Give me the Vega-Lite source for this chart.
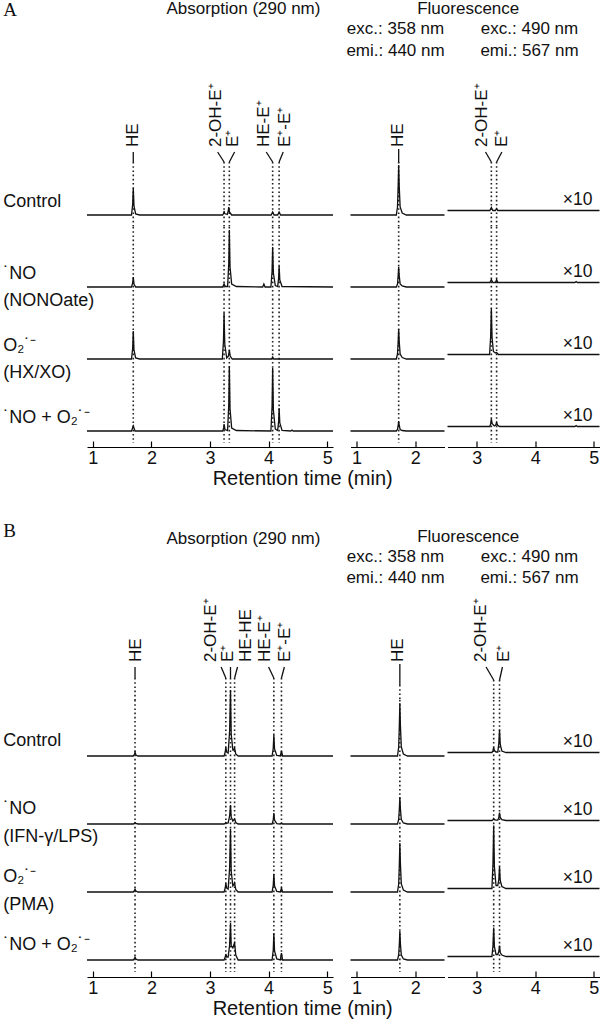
{
"$schema": "https://vega.github.io/schema/vega-lite/v6.json",
"background": "white",
"padding": {"left": 3, "top": 0, "right": 0, "bottom": 0},
"spacing": 33,
"datasets": {
"absA": [
{"s":"a","lab":"HE","tx":1.69,"bx":1.69,"px":1.69,"t":[null],"v":[null],"pk":[null]},
{"s":"a","lab":"2-OH-E⁺","tx":3.1,"bx":3.13,"px":3.24,"t":[null],"v":[null],"pk":[null]},
{"s":"a","lab":"E⁺","tx":3.4,"bx":3.42,"px":3.33,"t":[null],"v":[null],"pk":[null]},
{"s":"a","lab":"HE-E⁺","tx":3.93,"bx":3.96,"px":4.07,"t":[null],"v":[null],"pk":[null]},
{"s":"a","lab":"E⁺-E⁺","tx":4.28,"bx":4.25,"px":4.18,"t":[null],"v":[null],"pk":[null]},
{"s":"Control","name":"Control","pk":[1.69,3.24,3.33,4.07,4.18],
 "t":[0.9,1.66,1.68,1.69,1.702,1.73,1.8,3.215,3.235,3.24,3.25,3.295,3.31,3.32,3.332,3.37,4.045,4.07,4.095,4.155,4.18,4.205,5.1],
 "v":[0,0,11,27,9,1,0,0,2,4,1.5,0.5,3.5,8,3,0,0,3,0,0,3,0,0]},
{"s":"NO","name":["˙NO","(NONOate)"],"pk":[1.69,3.24,3.33,4.07,4.18],
 "t":[0.9,1.66,1.68,1.69,1.702,1.73,3.215,3.24,3.262,3.3,3.32,3.33,3.342,3.37,3.45,3.9,3.92,3.94,4.04,4.06,4.07,4.082,4.115,4.155,4.172,4.18,4.192,4.23,5.1],
 "v":[0,0,4,10,3,0,0,3,0.5,0.5,23,57,20,3,0.5,0,3,0,0,16,40,14,1.5,0.5,9,21,7,0.5,0]},
{"s":"O2","name":["O₂˙⁻","(HX/XO)"],"pk":[1.69,3.24,3.33,4.07,4.18],
 "t":[0.9,1.66,1.68,1.69,1.702,1.73,1.8,3.21,3.23,3.24,3.252,3.285,3.315,3.33,3.345,3.38,4.05,4.07,4.09,5.1],
 "v":[0,0,11,28,9,1,0,0,18,46,15,1,3,9,3,0,0,2,0,0]},
{"s":"NOO2","name":"˙NO + O₂˙⁻","pk":[1.69,3.24,3.33,4.07,4.18],
 "t":[0.9,1.66,1.69,1.72,3.215,3.235,3.24,3.255,3.3,3.32,3.33,3.342,3.37,3.45,4.04,4.06,4.07,4.082,4.115,4.155,4.172,4.18,4.192,4.23,4.38,4.4,4.42,5.1],
 "v":[0,0,5,0,0,3,7,1.5,0.5,26,65,22,3,0.5,0,25,63,21,2,0.5,10,23,8,0.5,0,1,0,0]}
],
"flA": [
{"s":"a","lab":"HE","tx":1.71,"bx":1.72,"px":1.72,"t":[null],"v":[null],"pk":[null]},
{"s":"Control","pk":[1.72],"t":[0.9,1.68,1.7,1.712,1.72,1.73,1.745,1.78,1.85,2.5],"v":[0,0,8,30,50,28,8,2,0,0]},
{"s":"NO","pk":[1.72],"t":[0.9,1.68,1.7,1.712,1.72,1.73,1.745,1.78,1.85,2.5],"v":[0,0,3,12,20,11,3,1,0,0]},
{"s":"O2","pk":[1.72],"t":[0.9,1.68,1.7,1.712,1.72,1.73,1.745,1.78,1.85,2.5],"v":[0,0,5,18,30,17,5,1.5,0,0]},
{"s":"NOO2","pk":[1.72],"t":[0.9,1.68,1.7,1.712,1.72,1.73,1.745,1.78,1.85,2.5],"v":[0,0,1.5,6,10,5.5,1.5,0.5,0,0]}
],
"frA": [
{"s":"a","lab":"2-OH-E⁺","tx":3.09,"bx":3.15,"px":3.25,"t":[null],"v":[null],"pk":[null]},
{"s":"a","lab":"E⁺","tx":3.44,"bx":3.43,"px":3.34,"t":[null],"v":[null],"pk":[null]},
{"s":"Control","pk":[3.25,3.34],"t":[2.5,3.225,3.25,3.275,3.32,3.34,3.36,5.1],"v":[0,0,3,0,0,2,0,0]},
{"s":"NO","pk":[3.25,3.34],"t":[2.5,3.225,3.25,3.275,3.32,3.34,3.36,4.68,4.7,4.72,5.1],"v":[0,0,3,0,0,3,0,0,1,0,0]},
{"s":"O2","pk":[3.25,3.34],"t":[2.5,3.22,3.238,3.25,3.262,3.285,3.32,3.34,3.37,5.1],"v":[0,0,18,46,17,3,1.5,2,0,0]},
{"s":"NOO2","pk":[3.25,3.34],"t":[2.5,3.225,3.24,3.25,3.262,3.3,3.325,3.34,3.355,3.39,4.68,4.7,4.72,5.1],"v":[0,0,3,8,3,0.5,1.5,4,1.5,0,0,1,0,0]}
],
"absB": [
{"s":"a","lab":"HE","tx":1.73,"bx":1.72,"px":1.72,"t":[null],"v":[null],"pk":[null]},
{"s":"a","lab":"2-OH-E⁺","tx":3.02,"bx":3.19,"px":3.27,"t":[null],"v":[null],"pk":[null]},
{"s":"a","lab":"E⁺","tx":3.31,"bx":3.35,"px":3.35,"t":[null],"v":[null],"pk":[null]},
{"s":"a","lab":"HE-HE","tx":3.62,"bx":3.47,"px":3.42,"t":[null],"v":[null],"pk":[null]},
{"s":"a","lab":"HE-E⁺","tx":3.94,"bx":4.0,"px":4.09,"t":[null],"v":[null],"pk":[null]},
{"s":"a","lab":"E⁺-E⁺","tx":4.28,"bx":4.27,"px":4.22,"t":[null],"v":[null],"pk":[null]},
{"s":"Control","name":"Control","pk":[1.72,3.27,3.35,3.42,4.09,4.22],
 "t":[0.9,1.69,1.712,1.72,1.735,1.77,3.24,3.26,3.27,3.285,3.31,3.335,3.35,3.362,3.39,3.405,3.42,3.44,3.48,4.06,4.08,4.09,4.102,4.14,4.2,4.22,4.24,5.1],
 "v":[0,0,2,4,1,0,0,4,9,4,3,25,66,22,6,6,8,2,0,0,8,21,7,0.5,0,5,0,0]},
{"s":"NO","name":["˙NO","(IFN-γ/LPS)"],"pk":[1.72,3.27,3.35,3.42,4.09,4.22],
 "t":[0.9,1.69,1.712,1.72,1.735,1.77,3.24,3.26,3.27,3.285,3.31,3.335,3.35,3.362,3.39,3.405,3.42,3.44,3.48,4.06,4.08,4.09,4.102,4.14,4.2,4.22,4.24,5.1],
 "v":[0,0,0.8,1.5,0.5,0,0,0.8,1.5,0.8,1,8,19,7,3,4,5,1.5,0,0,4,11,4,0.3,0,1,0,0]},
{"s":"O2","name":["O₂˙⁻","(PMA)"],"pk":[1.72,3.27,3.35,3.42,4.09,4.22],
 "t":[0.9,1.69,1.712,1.72,1.735,1.77,3.24,3.26,3.27,3.285,3.31,3.335,3.35,3.362,3.39,3.405,3.42,3.44,3.48,4.06,4.08,4.09,4.102,4.14,4.2,4.22,4.24,5.1],
 "v":[0,0,1.5,3,1,0,0,4,9,4,3,24,63,21,6,7,9,2.5,0,0,7,18,6,0.5,0,4,0,0]},
{"s":"NOO2","name":"˙NO + O₂˙⁻","pk":[1.72,3.27,3.35,3.42,4.09,4.22],
 "t":[0.9,1.69,1.712,1.72,1.735,1.77,3.24,3.26,3.27,3.285,3.31,3.335,3.35,3.362,3.39,3.405,3.42,3.44,3.48,4.06,4.08,4.09,4.102,4.14,4.2,4.22,4.24,5.1],
 "v":[0,0,1.5,3,1,0,0,3,6,3,3,15,37,14,12,15,17,5,0,0,10,27,9,1,0,7,0,0]}
],
"flB": [
{"s":"a","lab":"HE","tx":1.71,"bx":1.74,"px":1.74,"t":[null],"v":[null],"pk":[null]},
{"s":"Control","pk":[1.74],"t":[0.9,1.7,1.72,1.732,1.74,1.75,1.765,1.8,1.87,2.5],"v":[0,0,9,32,53,30,9,2,0,0]},
{"s":"NO","pk":[1.74],"t":[0.9,1.7,1.72,1.732,1.74,1.75,1.765,1.8,1.87,2.5],"v":[0,0,4.5,16,27,15,4.5,1,0,0]},
{"s":"O2","pk":[1.74],"t":[0.9,1.7,1.72,1.732,1.74,1.75,1.765,1.8,1.87,2.5],"v":[0,0,8,29,49,28,8,2,0,0]},
{"s":"NOO2","pk":[1.74],"t":[0.9,1.7,1.72,1.732,1.74,1.75,1.765,1.8,1.87,2.5],"v":[0,0,5,17,29,16,5,1,0,0]}
],
"frB": [
{"s":"a","lab":"2-OH-E⁺","tx":3.08,"bx":3.16,"px":3.29,"t":[null],"v":[null],"pk":[null]},
{"s":"a","lab":"E⁺","tx":3.47,"bx":3.44,"px":3.39,"t":[null],"v":[null],"pk":[null]},
{"s":"Control","pk":[3.29,3.39],"t":[2.5,3.26,3.278,3.29,3.302,3.33,3.36,3.378,3.39,3.402,3.43,3.5,5.1],"v":[0,0,2,5,2,0.5,0.5,9,23,8,1.5,0,0]},
{"s":"NO","pk":[3.29,3.39],"t":[2.5,3.26,3.278,3.29,3.302,3.33,3.36,3.378,3.39,3.402,3.43,3.5,5.1],"v":[0,0,0.8,2,0.8,0.3,0.3,3,8,3,0.8,0,0]},
{"s":"O2","pk":[3.29,3.39],"t":[2.5,3.26,3.278,3.29,3.302,3.33,3.36,3.378,3.39,3.402,3.43,3.5,5.1],"v":[0,0,25,63,22,3,3,9,22,8,2,0,0]},
{"s":"NOO2","pk":[3.29,3.39],"t":[2.5,3.26,3.278,3.29,3.302,3.33,3.36,3.378,3.39,3.402,3.43,3.5,5.1],"v":[0,0,11,29,10,2,2,5,11,4,1.5,0,0]}
]
},
"vconcat": [
{
 "title": {"text": "A", "anchor": "start", "font": "Liberation Serif", "fontSize": 19, "offset": -20},
 "vconcat": [{
  "title": {"text": "Retention time (min)", "orient": "bottom", "anchor": "middle", "fontSize": 20, "offset": 2},
  "spacing": 9.5,
  "hconcat": [
   {
    "data": {"name": "absA"},
    "transform": [{"flatten": ["t", "v", "pk"]}],
    "title": {"text": "Absorption (290 nm)", "anchor": "middle", "dx": 74, "offset": 65},
    "spacing": 0,
    "bounds": "flush",
    "facet": {"row": {"field": "s", "type": "nominal", "sort": ["a","Control","NO","O2","NOO2"], "header": null}},
    "spec": {"width": 246, "height": 72, "layer": [
     {"transform": [{"filter": "datum.pk != null && datum.s !== 'a' && datum.s !== 'Control'"}],
      "mark": {"type": "rule", "strokeDash": [1.6, 2.6], "strokeWidth": 1.6, "color": "#222"},
      "encoding": {"x": {"field": "pk", "type": "quantitative", "scale": {"domain": [0.9, 5.1], "nice": false, "zero": false}, "axis": {"values": [1,2,3,4,5], "title": null, "offset": 4, "tickSize": -6, "labelPadding": 8, "grid": false}},
       "y": {"datum": 60, "type": "quantitative", "scale": {"domain": [-12, 60], "nice": false, "zero": false}, "axis": null}, "y2": {"datum": -12}}},
     {"transform": [{"filter": "datum.pk != null && datum.s === 'Control'"}],
      "mark": {"type": "rule", "strokeDash": [1.6, 2.6], "strokeWidth": 1.6, "color": "#222"},
      "encoding": {"x": {"field": "pk", "type": "quantitative", "scale": {"domain": [0.9, 5.1], "nice": false, "zero": false}, "axis": {"values": [1,2,3,4,5], "title": null, "offset": 4, "tickSize": -6, "labelPadding": 8, "grid": false}},
       "y": {"datum": 53, "type": "quantitative", "scale": {"domain": [-12, 60], "nice": false, "zero": false}, "axis": null}, "y2": {"datum": -12}}},
     {"transform": [{"filter": "datum.s !== 'a'"}],
      "mark": {"type": "line", "strokeWidth": 1.3, "color": "#111"},
      "encoding": {"x": {"field": "t", "type": "quantitative", "scale": {"domain": [0.9, 5.1], "nice": false, "zero": false}, "axis": {"values": [1,2,3,4,5], "title": null, "offset": 4, "tickSize": -6, "labelPadding": 8, "grid": false}},
       "y": {"field": "v", "type": "quantitative", "scale": {"domain": [-12, 60], "nice": false, "zero": false}, "axis": null}}},
     {"transform": [{"filter": "datum.s === 'a'"}],
      "mark": {"type": "rule", "strokeWidth": 1.3, "color": "#111"},
      "encoding": {"x": {"field": "bx", "type": "quantitative", "scale": {"domain": [0.9, 5.1], "nice": false, "zero": false}, "axis": {"values": [1,2,3,4,5], "title": null, "offset": 4, "tickSize": -6, "labelPadding": 8, "grid": false}},
       "x2": {"field": "px"},
       "y": {"datum": -9, "type": "quantitative", "scale": {"domain": [-12, 60], "nice": false, "zero": false}, "axis": null}, "y2": {"datum": -19}}},
     {"transform": [{"filter": "datum.s === 'a'"}],
      "mark": {"type": "text", "angle": 270, "align": "left", "baseline": "middle", "fontSize": 17},
      "encoding": {"x": {"field": "tx", "type": "quantitative", "scale": {"domain": [0.9, 5.1], "nice": false, "zero": false}, "axis": {"values": [1,2,3,4,5], "title": null, "offset": 4, "tickSize": -6, "labelPadding": 8, "grid": false}},
       "y": {"datum": -4, "type": "quantitative", "scale": {"domain": [-12, 60], "nice": false, "zero": false}, "axis": null},
       "text": {"field": "lab"}}},
     {"transform": [{"filter": "datum.s !== 'a' && datum.t === 0.9"}],
      "mark": {"type": "text", "align": "left", "baseline": "bottom", "fontSize": 18, "lineHeight": 27},
      "encoding": {"x": {"datum": -0.53, "type": "quantitative", "scale": {"domain": [0.9, 5.1], "nice": false, "zero": false}, "axis": {"values": [1,2,3,4,5], "title": null, "offset": 4, "tickSize": -6, "labelPadding": 8, "grid": false}},
       "y": {"datum": 4, "type": "quantitative", "scale": {"domain": [-12, 60], "nice": false, "zero": false}, "axis": null},
       "text": {"field": "name"}}}
    ]}
   },
   {
    "title": {"text": "Fluorescence", "anchor": "middle", "dx": -6, "offset": 2},
    "spacing": -5.5,
    "hconcat": [
     {
      "data": {"name": "flA"},
      "transform": [{"flatten": ["t", "v", "pk"]}],
      "title": {"text": ["exc.: 358 nm", "emi.: 440 nm"], "anchor": "middle", "dx": -2, "offset": 23, "lineHeight": 22},
      "spacing": 0,
      "bounds": "flush",
      "facet": {"row": {"field": "s", "type": "nominal", "sort": ["a","Control","NO","O2","NOO2"], "header": null}},
      "spec": {"width": 94, "height": 72, "layer": [
       {"transform": [{"filter": "datum.pk != null && datum.s !== 'a' && datum.s !== 'Control'"}],
        "mark": {"type": "rule", "strokeDash": [1.6, 2.6], "strokeWidth": 1.6, "color": "#222"},
        "encoding": {"x": {"field": "pk", "type": "quantitative", "scale": {"domain": [0.9, 2.5], "nice": false, "zero": false}, "axis": {"values": [1,2], "title": null, "offset": 4, "tickSize": -6, "labelPadding": 8, "grid": false}},
         "y": {"datum": 60, "type": "quantitative", "scale": {"domain": [-12, 60], "nice": false, "zero": false}, "axis": null}, "y2": {"datum": -12}}},
       {"transform": [{"filter": "datum.pk != null && datum.s === 'Control'"}],
        "mark": {"type": "rule", "strokeDash": [1.6, 2.6], "strokeWidth": 1.6, "color": "#222"},
        "encoding": {"x": {"field": "pk", "type": "quantitative", "scale": {"domain": [0.9, 2.5], "nice": false, "zero": false}, "axis": {"values": [1,2], "title": null, "offset": 4, "tickSize": -6, "labelPadding": 8, "grid": false}},
         "y": {"datum": 53, "type": "quantitative", "scale": {"domain": [-12, 60], "nice": false, "zero": false}, "axis": null}, "y2": {"datum": -12}}},
       {"transform": [{"filter": "datum.s !== 'a'"}],
        "mark": {"type": "line", "strokeWidth": 1.3, "color": "#111"},
        "encoding": {"x": {"field": "t", "type": "quantitative", "scale": {"domain": [0.9, 2.5], "nice": false, "zero": false}, "axis": {"values": [1,2], "title": null, "offset": 4, "tickSize": -6, "labelPadding": 8, "grid": false}},
         "y": {"field": "v", "type": "quantitative", "scale": {"domain": [-12, 60], "nice": false, "zero": false}, "axis": null}}},
       {"transform": [{"filter": "datum.s === 'a'"}],
        "mark": {"type": "rule", "strokeWidth": 1.3, "color": "#111"},
        "encoding": {"x": {"field": "bx", "type": "quantitative", "scale": {"domain": [0.9, 2.5], "nice": false, "zero": false}, "axis": {"values": [1,2], "title": null, "offset": 4, "tickSize": -6, "labelPadding": 8, "grid": false}},
         "x2": {"field": "px"},
         "y": {"datum": -6, "type": "quantitative", "scale": {"domain": [-12, 60], "nice": false, "zero": false}, "axis": null}, "y2": {"datum": -20}}},
       {"transform": [{"filter": "datum.s === 'a'"}],
        "mark": {"type": "text", "angle": 270, "align": "left", "baseline": "middle", "fontSize": 17},
        "encoding": {"x": {"field": "tx", "type": "quantitative", "scale": {"domain": [0.9, 2.5], "nice": false, "zero": false}, "axis": {"values": [1,2], "title": null, "offset": 4, "tickSize": -6, "labelPadding": 8, "grid": false}},
         "y": {"datum": -4, "type": "quantitative", "scale": {"domain": [-12, 60], "nice": false, "zero": false}, "axis": null},
         "text": {"field": "lab"}}}
      ]}
     },
     {
      "data": {"name": "frA"},
      "transform": [{"flatten": ["t", "v", "pk"]}],
      "title": {"text": ["exc.: 490 nm", "emi.: 567 nm"], "anchor": "middle", "dx": 6, "offset": 23, "lineHeight": 22},
      "spacing": 0,
      "bounds": "flush",
      "facet": {"row": {"field": "s", "type": "nominal", "sort": ["a","Control","NO","O2","NOO2"], "header": null}},
      "spec": {"width": 152, "height": 72, "layer": [
       {"transform": [{"filter": "datum.pk != null && datum.s !== 'a' && datum.s !== 'Control'"}],
        "mark": {"type": "rule", "strokeDash": [1.6, 2.6], "strokeWidth": 1.6, "color": "#222"},
        "encoding": {"x": {"field": "pk", "type": "quantitative", "scale": {"domain": [2.5, 5.1], "nice": false, "zero": false}, "axis": {"values": [3,4,5], "title": null, "offset": 4, "tickSize": -6, "labelPadding": 8, "grid": false}},
         "y": {"datum": 55.5, "type": "quantitative", "scale": {"domain": [-16.5, 55.5], "nice": false, "zero": false}, "axis": null}, "y2": {"datum": -16.5}}},
       {"transform": [{"filter": "datum.pk != null && datum.s === 'Control'"}],
        "mark": {"type": "rule", "strokeDash": [1.6, 2.6], "strokeWidth": 1.6, "color": "#222"},
        "encoding": {"x": {"field": "pk", "type": "quantitative", "scale": {"domain": [2.5, 5.1], "nice": false, "zero": false}, "axis": {"values": [3,4,5], "title": null, "offset": 4, "tickSize": -6, "labelPadding": 8, "grid": false}},
         "y": {"datum": 48.5, "type": "quantitative", "scale": {"domain": [-16.5, 55.5], "nice": false, "zero": false}, "axis": null}, "y2": {"datum": -16.5}}},
       {"transform": [{"filter": "datum.s !== 'a'"}],
        "mark": {"type": "line", "strokeWidth": 1.3, "color": "#111"},
        "encoding": {"x": {"field": "t", "type": "quantitative", "scale": {"domain": [2.5, 5.1], "nice": false, "zero": false}, "axis": {"values": [3,4,5], "title": null, "offset": 4, "tickSize": -6, "labelPadding": 8, "grid": false}},
         "y": {"field": "v", "type": "quantitative", "scale": {"domain": [-16.5, 55.5], "nice": false, "zero": false}, "axis": null}}},
       {"transform": [{"filter": "datum.s === 'a'"}],
        "mark": {"type": "rule", "strokeWidth": 1.3, "color": "#111"},
        "encoding": {"x": {"field": "bx", "type": "quantitative", "scale": {"domain": [2.5, 5.1], "nice": false, "zero": false}, "axis": {"values": [3,4,5], "title": null, "offset": 4, "tickSize": -6, "labelPadding": 8, "grid": false}},
         "x2": {"field": "px"},
         "y": {"datum": -13.5, "type": "quantitative", "scale": {"domain": [-16.5, 55.5], "nice": false, "zero": false}, "axis": null}, "y2": {"datum": -23.5}}},
       {"transform": [{"filter": "datum.s === 'a'"}],
        "mark": {"type": "text", "angle": 270, "align": "left", "baseline": "middle", "fontSize": 17},
        "encoding": {"x": {"field": "tx", "type": "quantitative", "scale": {"domain": [2.5, 5.1], "nice": false, "zero": false}, "axis": {"values": [3,4,5], "title": null, "offset": 4, "tickSize": -6, "labelPadding": 8, "grid": false}},
         "y": {"datum": -8.5, "type": "quantitative", "scale": {"domain": [-16.5, 55.5], "nice": false, "zero": false}, "axis": null},
         "text": {"field": "lab"}}},
       {"transform": [{"filter": "datum.s !== 'a' && datum.t === 2.5"}],
        "mark": {"type": "text", "align": "right", "baseline": "alphabetic", "fontSize": 17.5},
        "encoding": {"x": {"datum": 4.98, "type": "quantitative", "scale": {"domain": [2.5, 5.1], "nice": false, "zero": false}, "axis": {"values": [3,4,5], "title": null, "offset": 4, "tickSize": -6, "labelPadding": 8, "grid": false}},
         "y": {"datum": 6, "type": "quantitative", "scale": {"domain": [-16.5, 55.5], "nice": false, "zero": false}, "axis": null},
         "text": {"value": "×10"}}}
      ]}
     }
    ]
   }
  ]
 }]
},
{
 "title": {"text": "B", "anchor": "start", "font": "Liberation Serif", "fontSize": 19, "offset": -13},
 "vconcat": [{
  "title": {"text": "Retention time (min)", "orient": "bottom", "anchor": "middle", "fontSize": 20, "offset": 2},
  "spacing": 9.5,
  "hconcat": [
   {
    "data": {"name": "absB"},
    "transform": [{"flatten": ["t", "v", "pk"]}],
    "title": {"text": "Absorption (290 nm)", "anchor": "middle", "dx": 74, "offset": 50},
    "spacing": 0,
    "bounds": "flush",
    "facet": {"row": {"field": "s", "type": "nominal", "sort": ["a","Control","NO","O2","NOO2"], "header": null}},
    "spec": {"width": 246, "height": 68, "layer": [
     {"transform": [{"filter": "datum.pk != null && datum.s !== 'a'"}],
      "mark": {"type": "rule", "strokeDash": [1.6, 2.6], "strokeWidth": 1.6, "color": "#222"},
      "encoding": {"x": {"field": "pk", "type": "quantitative", "scale": {"domain": [0.9, 5.1], "nice": false, "zero": false}, "axis": {"values": [1,2,3,4,5], "title": null, "offset": 5, "tickSize": -6, "labelPadding": 8, "grid": false}},
       "y": {"datum": 56, "type": "quantitative", "scale": {"domain": [-12, 56], "nice": false, "zero": false}, "axis": null}, "y2": {"datum": -12}}},
     {"transform": [{"filter": "datum.s === 'a'"}],
      "mark": {"type": "rule", "strokeDash": [1.6, 2.6], "strokeWidth": 1.6, "color": "#222"},
      "encoding": {"x": {"field": "px", "type": "quantitative", "scale": {"domain": [0.9, 5.1], "nice": false, "zero": false}, "axis": {"values": [1,2,3,4,5], "title": null, "offset": 5, "tickSize": -6, "labelPadding": 8, "grid": false}},
       "y": {"datum": 10, "type": "quantitative", "scale": {"domain": [-12, 56], "nice": false, "zero": false}, "axis": null}, "y2": {"datum": -12}}},
     {"transform": [{"filter": "datum.s !== 'a'"}],
      "mark": {"type": "line", "strokeWidth": 1.3, "color": "#111"},
      "encoding": {"x": {"field": "t", "type": "quantitative", "scale": {"domain": [0.9, 5.1], "nice": false, "zero": false}, "axis": {"values": [1,2,3,4,5], "title": null, "offset": 5, "tickSize": -6, "labelPadding": 8, "grid": false}},
       "y": {"field": "v", "type": "quantitative", "scale": {"domain": [-12, 56], "nice": false, "zero": false}, "axis": null}}},
     {"transform": [{"filter": "datum.s === 'a'"}],
      "mark": {"type": "rule", "strokeWidth": 1.3, "color": "#111"},
      "encoding": {"x": {"field": "bx", "type": "quantitative", "scale": {"domain": [0.9, 5.1], "nice": false, "zero": false}, "axis": {"values": [1,2,3,4,5], "title": null, "offset": 5, "tickSize": -6, "labelPadding": 8, "grid": false}},
       "x2": {"field": "px"},
       "y": {"datum": 21, "type": "quantitative", "scale": {"domain": [-12, 56], "nice": false, "zero": false}, "axis": null}, "y2": {"datum": 10}}},
     {"transform": [{"filter": "datum.s === 'a'"}],
      "mark": {"type": "text", "angle": 270, "align": "left", "baseline": "middle", "fontSize": 17},
      "encoding": {"x": {"field": "tx", "type": "quantitative", "scale": {"domain": [0.9, 5.1], "nice": false, "zero": false}, "axis": {"values": [1,2,3,4,5], "title": null, "offset": 5, "tickSize": -6, "labelPadding": 8, "grid": false}},
       "y": {"datum": 26, "type": "quantitative", "scale": {"domain": [-12, 56], "nice": false, "zero": false}, "axis": null},
       "text": {"field": "lab"}}},
     {"transform": [{"filter": "datum.s !== 'a' && datum.t === 0.9"}],
      "mark": {"type": "text", "align": "left", "baseline": "bottom", "fontSize": 18, "lineHeight": 28},
      "encoding": {"x": {"datum": -0.53, "type": "quantitative", "scale": {"domain": [0.9, 5.1], "nice": false, "zero": false}, "axis": {"values": [1,2,3,4,5], "title": null, "offset": 5, "tickSize": -6, "labelPadding": 8, "grid": false}},
       "y": {"datum": 6, "type": "quantitative", "scale": {"domain": [-12, 56], "nice": false, "zero": false}, "axis": null},
       "text": {"field": "name"}}}
    ]}
   },
   {
    "title": {"text": "Fluorescence", "anchor": "middle", "dx": -6, "offset": 2},
    "spacing": -5.5,
    "hconcat": [
     {
      "data": {"name": "flB"},
      "transform": [{"flatten": ["t", "v", "pk"]}],
      "title": {"text": ["exc.: 358 nm", "emi.: 440 nm"], "anchor": "middle", "dx": -2, "offset": 45, "lineHeight": 21},
      "spacing": 0,
      "bounds": "flush",
      "facet": {"row": {"field": "s", "type": "nominal", "sort": ["a","Control","NO","O2","NOO2"], "header": null}},
      "spec": {"width": 94, "height": 68, "layer": [
       {"transform": [{"filter": "datum.pk != null && datum.s !== 'a'"}],
        "mark": {"type": "rule", "strokeDash": [1.6, 2.6], "strokeWidth": 1.6, "color": "#222"},
        "encoding": {"x": {"field": "pk", "type": "quantitative", "scale": {"domain": [0.9, 2.5], "nice": false, "zero": false}, "axis": {"values": [1,2], "title": null, "offset": 5, "tickSize": -6, "labelPadding": 8, "grid": false}},
         "y": {"datum": 56, "type": "quantitative", "scale": {"domain": [-12, 56], "nice": false, "zero": false}, "axis": null}, "y2": {"datum": -12}}},
       {"transform": [{"filter": "datum.s === 'a'"}],
        "mark": {"type": "rule", "strokeDash": [1.6, 2.6], "strokeWidth": 1.6, "color": "#222"},
        "encoding": {"x": {"field": "px", "type": "quantitative", "scale": {"domain": [0.9, 2.5], "nice": false, "zero": false}, "axis": {"values": [1,2], "title": null, "offset": 5, "tickSize": -6, "labelPadding": 8, "grid": false}},
         "y": {"datum": 3, "type": "quantitative", "scale": {"domain": [-12, 56], "nice": false, "zero": false}, "axis": null}, "y2": {"datum": -12}}},
       {"transform": [{"filter": "datum.s !== 'a'"}],
        "mark": {"type": "line", "strokeWidth": 1.3, "color": "#111"},
        "encoding": {"x": {"field": "t", "type": "quantitative", "scale": {"domain": [0.9, 2.5], "nice": false, "zero": false}, "axis": {"values": [1,2], "title": null, "offset": 5, "tickSize": -6, "labelPadding": 8, "grid": false}},
         "y": {"field": "v", "type": "quantitative", "scale": {"domain": [-12, 56], "nice": false, "zero": false}, "axis": null}}},
       {"transform": [{"filter": "datum.s === 'a'"}],
        "mark": {"type": "rule", "strokeWidth": 1.3, "color": "#111"},
        "encoding": {"x": {"field": "bx", "type": "quantitative", "scale": {"domain": [0.9, 2.5], "nice": false, "zero": false}, "axis": {"values": [1,2], "title": null, "offset": 5, "tickSize": -6, "labelPadding": 8, "grid": false}},
         "x2": {"field": "px"},
         "y": {"datum": 24, "type": "quantitative", "scale": {"domain": [-12, 56], "nice": false, "zero": false}, "axis": null}, "y2": {"datum": 3}}},
       {"transform": [{"filter": "datum.s === 'a'"}],
        "mark": {"type": "text", "angle": 270, "align": "left", "baseline": "middle", "fontSize": 17},
        "encoding": {"x": {"field": "tx", "type": "quantitative", "scale": {"domain": [0.9, 2.5], "nice": false, "zero": false}, "axis": {"values": [1,2], "title": null, "offset": 5, "tickSize": -6, "labelPadding": 8, "grid": false}},
         "y": {"datum": 26, "type": "quantitative", "scale": {"domain": [-12, 56], "nice": false, "zero": false}, "axis": null},
         "text": {"field": "lab"}}}
      ]}
     },
     {
      "data": {"name": "frB"},
      "transform": [{"flatten": ["t", "v", "pk"]}],
      "title": {"text": ["exc.: 490 nm", "emi.: 567 nm"], "anchor": "middle", "dx": 6, "offset": 11, "lineHeight": 21},
      "spacing": 0,
      "bounds": "flush",
      "facet": {"row": {"field": "s", "type": "nominal", "sort": ["a","Control","NO","O2","NOO2"], "header": null}},
      "spec": {"width": 152, "height": 68, "layer": [
       {"transform": [{"filter": "datum.pk != null && datum.s !== 'a'"}],
        "mark": {"type": "rule", "strokeDash": [1.6, 2.6], "strokeWidth": 1.6, "color": "#222"},
        "encoding": {"x": {"field": "pk", "type": "quantitative", "scale": {"domain": [2.5, 5.1], "nice": false, "zero": false}, "axis": {"values": [3,4,5], "title": null, "offset": 5, "tickSize": -6, "labelPadding": 8, "grid": false}},
         "y": {"datum": 52.5, "type": "quantitative", "scale": {"domain": [-15.5, 52.5], "nice": false, "zero": false}, "axis": null}, "y2": {"datum": -15.5}}},
       {"transform": [{"filter": "datum.s === 'a'"}],
        "mark": {"type": "rule", "strokeDash": [1.6, 2.6], "strokeWidth": 1.6, "color": "#222"},
        "encoding": {"x": {"field": "px", "type": "quantitative", "scale": {"domain": [2.5, 5.1], "nice": false, "zero": false}, "axis": {"values": [3,4,5], "title": null, "offset": 5, "tickSize": -6, "labelPadding": 8, "grid": false}},
         "y": {"datum": 4.5, "type": "quantitative", "scale": {"domain": [-15.5, 52.5], "nice": false, "zero": false}, "axis": null}, "y2": {"datum": -15.5}}},
       {"transform": [{"filter": "datum.s !== 'a'"}],
        "mark": {"type": "line", "strokeWidth": 1.3, "color": "#111"},
        "encoding": {"x": {"field": "t", "type": "quantitative", "scale": {"domain": [2.5, 5.1], "nice": false, "zero": false}, "axis": {"values": [3,4,5], "title": null, "offset": 5, "tickSize": -6, "labelPadding": 8, "grid": false}},
         "y": {"field": "v", "type": "quantitative", "scale": {"domain": [-15.5, 52.5], "nice": false, "zero": false}, "axis": null}}},
       {"transform": [{"filter": "datum.s === 'a'"}],
        "mark": {"type": "rule", "strokeWidth": 1.3, "color": "#111"},
        "encoding": {"x": {"field": "bx", "type": "quantitative", "scale": {"domain": [2.5, 5.1], "nice": false, "zero": false}, "axis": {"values": [3,4,5], "title": null, "offset": 5, "tickSize": -6, "labelPadding": 8, "grid": false}},
         "x2": {"field": "px"},
         "y": {"datum": 17.5, "type": "quantitative", "scale": {"domain": [-15.5, 52.5], "nice": false, "zero": false}, "axis": null}, "y2": {"datum": 4.5}}},
       {"transform": [{"filter": "datum.s === 'a'"}],
        "mark": {"type": "text", "angle": 270, "align": "left", "baseline": "middle", "fontSize": 17},
        "encoding": {"x": {"field": "tx", "type": "quantitative", "scale": {"domain": [2.5, 5.1], "nice": false, "zero": false}, "axis": {"values": [3,4,5], "title": null, "offset": 5, "tickSize": -6, "labelPadding": 8, "grid": false}},
         "y": {"datum": 22.5, "type": "quantitative", "scale": {"domain": [-15.5, 52.5], "nice": false, "zero": false}, "axis": null},
         "text": {"field": "lab"}}},
       {"transform": [{"filter": "datum.s !== 'a' && datum.t === 2.5"}],
        "mark": {"type": "text", "align": "right", "baseline": "alphabetic", "fontSize": 17.5},
        "encoding": {"x": {"datum": 4.98, "type": "quantitative", "scale": {"domain": [2.5, 5.1], "nice": false, "zero": false}, "axis": {"values": [3,4,5], "title": null, "offset": 5, "tickSize": -6, "labelPadding": 8, "grid": false}},
         "y": {"datum": 6, "type": "quantitative", "scale": {"domain": [-15.5, 52.5], "nice": false, "zero": false}, "axis": null},
         "text": {"value": "×10"}}}
      ]}
     }
    ]
   }
  ]
 }]
}
],
"config": {
 "view": {"stroke": null},
 "font": "Liberation Sans",
 "text": {"font": "Liberation Sans", "color": "#111"},
 "title": {"font": "Liberation Sans", "fontWeight": "normal", "fontSize": 17, "color": "#111"},
 "axis": {"domainColor": "#000", "tickColor": "#000", "labelColor": "#111", "labelFont": "Liberation Sans", "labelFontSize": 18, "domainWidth": 1.2, "tickWidth": 1.2, "grid": false},
 "header": {"labelFontSize": 0, "labelPadding": 0, "titlePadding": 0}
}
}
